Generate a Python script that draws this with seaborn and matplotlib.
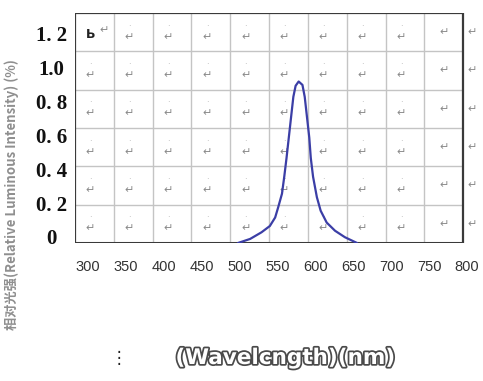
import matplotlib.pyplot as plt
import matplotlib.patheffects as pe
from matplotlib.transforms import ScaledTranslation
import numpy as np
import pandas as pd
import seaborn as sns

# spectrum
wavelength = [498, 514, 529, 540, 547, 551, 556, 559, 562, 565, 568, 571, 574,
              578, 583, 586, 589, 592, 594, 597, 602, 607, 615, 626, 639, 655]
intensity = [0.0, 0.024, 0.063, 0.10, 0.15, 0.21, 0.29, 0.39, 0.50, 0.62,
             0.74, 0.86, 0.925, 0.95, 0.93, 0.86, 0.74, 0.62, 0.50, 0.39,
             0.27, 0.19, 0.12, 0.072, 0.034, 0.0]

x_ticks = [300, 350, 400, 450, 500, 550, 600, 650, 700, 750, 800]
y_ticks = [0, 0.2, 0.4, 0.6, 0.8, 1.0, 1.2]
y_labels = ['0', '0. 2', '0. 4', '0. 6', '0. 8', '1.0', '1. 2']

df = pd.DataFrame({'wl': wavelength, 'val': intensity})

sns.set_theme(style='white')
plt.rcParams['font.family'] = ['DejaVu Sans']

fig = plt.figure(figsize=(4.83, 3.81), dpi=100)
# axes box: table area plus a little room on the right for the 800 label
ax = fig.add_axes([75 / 483, (381 - 243) / 381, (470 - 75) / 483, 230 / 381])
ax.set_xlim(283, 804)
ax.set_ylim(0, 1.353)
for s in ax.spines.values():
    s.set_visible(False)

# table grid (10 columns x 6 rows)
x0, x1 = 283, 795
y0, y1 = 0, 1.353
cols = np.linspace(x0, x1, 11)
rows = np.linspace(y0, y1, 7)
ax.vlines(cols[1:-1], y0, y1, color='#c4c4c4', lw=1, zorder=1)
ax.hlines(rows[1:-1], x0, x1, color='#c4c4c4', lw=1, zorder=1)
ax.vlines([x0, x1], y0, y1, color='#3a3a3a', lw=1.6, zorder=2)
ax.hlines([y1], x0, x1, color='#3a3a3a', lw=1.6, zorder=2)
ax.hlines([y0], x0, x1, color='#3a3a3a', lw=2.2, zorder=2)

# return marks in the cells
cw = cols[1] - cols[0]
rh = rows[1] - rows[0]
for r in range(6):
    top = rows[6 - r]
    for c in range(10):
        if r == 0 and c == 0:
            continue
        if c < 9:
            ax.text(cols[c] + cw * 0.4, top - rh * 0.62, '↵', fontsize=8,
                    color='#8a8a8a', ha='center', va='center', zorder=1)
            ax.text(cols[c] + cw * 0.4, top - rh * 0.35, '·', fontsize=6,
                    color='#aaaaaa', ha='center', va='center', zorder=1)
        else:
            ax.text(cols[c] + cw * 0.5, top - rh * 0.5, '↵', fontsize=8,
                    color='#8a8a8a', ha='center', va='center', zorder=1)
    ax.text(x1 + 12, top - rh * 0.5, '↵', fontsize=8, color='#8a8a8a',
            ha='center', va='center', clip_on=False)
# first cell: "Ь↵" side by side
ax.text(cols[0] + cw * 0.28, rows[6] - rh * 0.55, 'Ь', fontsize=9,
        color='#222222', ha='left', va='center', weight='bold')
ax.text(cols[0] + cw * 0.62, rows[6] - rh * 0.45, '↵', fontsize=8,
        color='#8a8a8a', ha='left', va='center')

sns.lineplot(data=df, x='wl', y='val', ax=ax, color='#3b3ea6', lw=1.6,
             zorder=3)

ax.set_xticks(x_ticks)
ax.set_yticks(y_ticks)
ax.set_yticklabels(y_labels)
ax.tick_params(axis='x', length=0, pad=12, labelsize=10.5, colors='#333333')
ax.tick_params(axis='y', length=0, pad=17, labelsize=15, colors='#111111')
for lab in ax.get_xticklabels():
    lab.set_fontfamily('Liberation Sans')
shift = ScaledTranslation(0, 0.06, fig.dpi_scale_trans)
for lab in ax.get_yticklabels():
    lab.set_fontfamily('Liberation Serif')
    lab.set_fontweight('bold')
    lab.set_horizontalalignment('center')
    lab.set_transform(lab.get_transform() + shift)
ax.set_xlabel('')
ax.set_ylabel('')

fig.text(12 / 483, 1 - 195 / 381, '相对光强(Relative Luminous Intensity) (%)',
         rotation=90, ha='center', va='center', fontsize=9.5, weight='bold',
         color='#8f8f8f', family=['Noto Sans CJK SC', 'DejaVu Sans'])
fig.text(285 / 483, 1 - 358 / 381, '(Wavelcngth)(nm)', ha='center',
         va='center', fontsize=15.5, weight='bold', color='white',
         path_effects=[pe.withStroke(linewidth=2.5, foreground='#4a4a4a')])
fig.text(119 / 483, 1 - 358 / 381, '⋮', ha='center', va='center',
         fontsize=12, color='#222222')

fig.savefig('out.png', dpi=100)
